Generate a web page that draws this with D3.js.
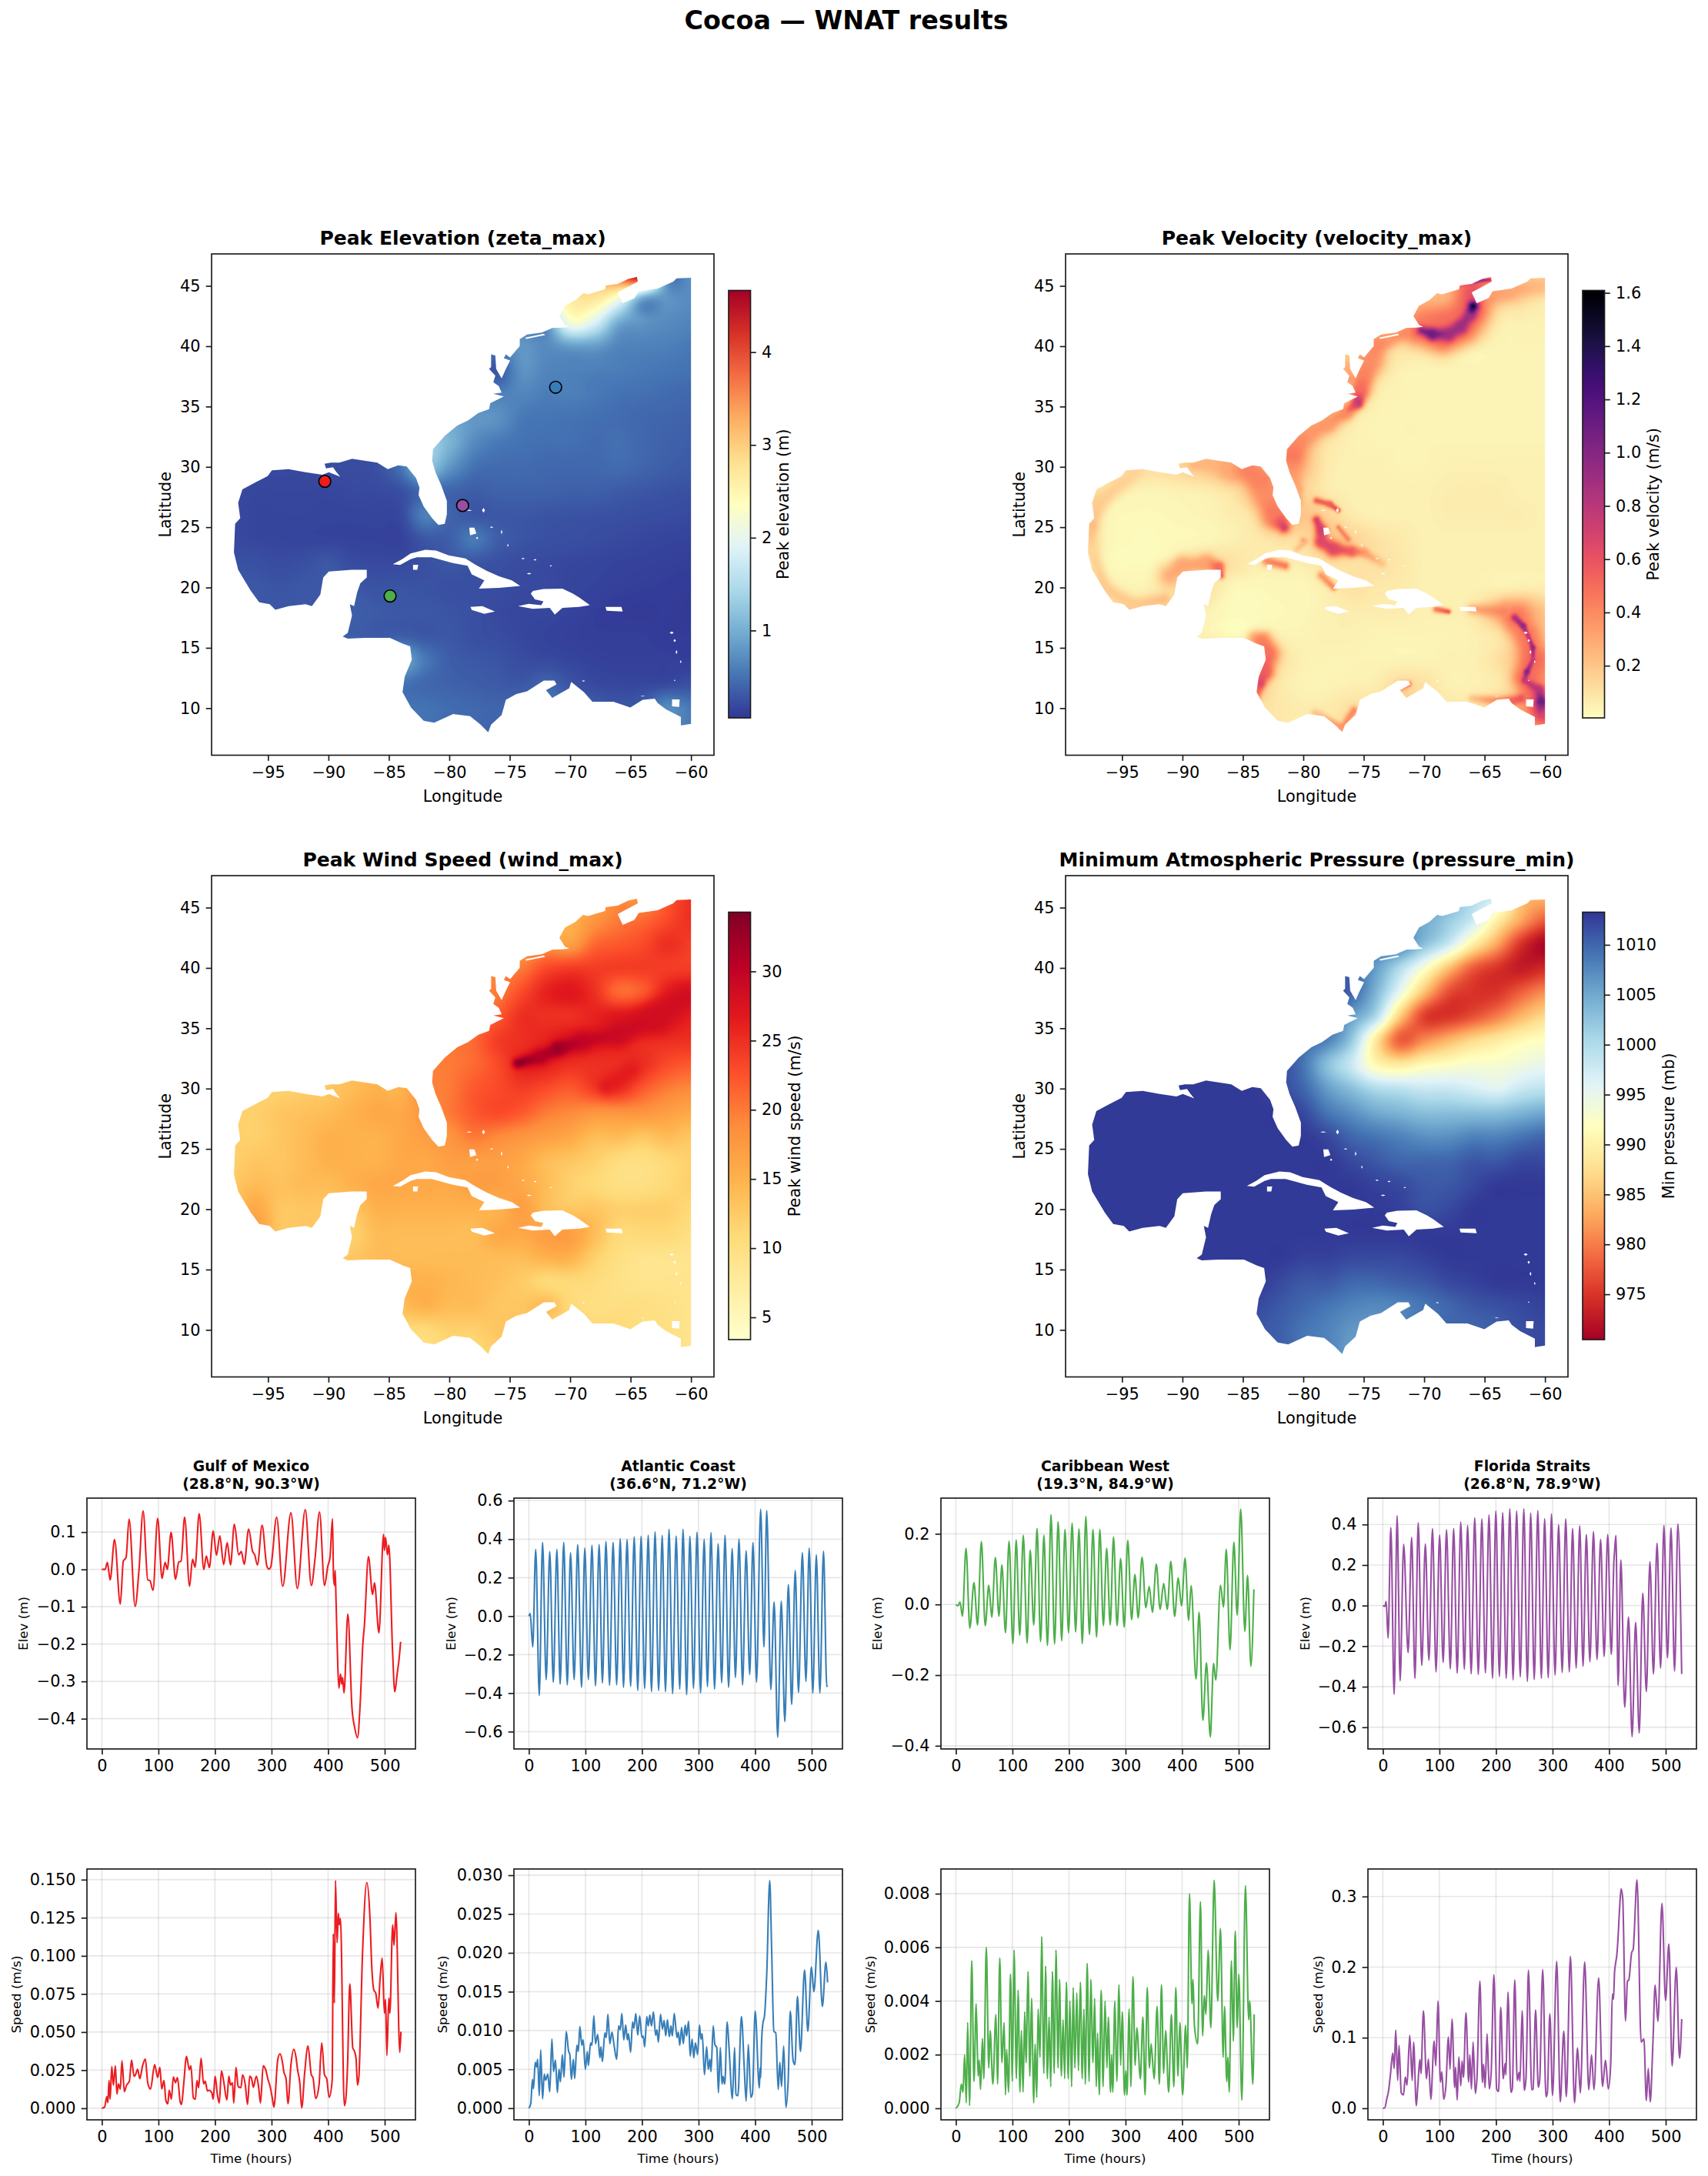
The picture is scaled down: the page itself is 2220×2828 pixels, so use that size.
<!DOCTYPE html>
<html>
<head>
<meta charset="utf-8">
<style>
  html, body { margin: 0; padding: 0; background: #fff; }
  text { font-family: "DejaVu Sans", sans-serif; fill: #000; }
</style>
<script src="https://cdn.jsdelivr.net/npm/d3@7"></script>
</head>
<body>
<div id="chart"></div>
<script>
// ---- data ----
var lonTicks = [-95, -90, -85, -80, -75, -70, -65, -60];
var latTicks = [10, 15, 20, 25, 30, 35, 40, 45];
var timeTicks = [0, 100, 200, 300, 400, 500];

var coast = [[-60,45.67],[-61.19,45.63],[-61.47,45.35],[-62.76,44.78],[-64.33,44.56],[-64.68,43.99],[-65.65,43.57],[-66.07,44.46],[-64.4,45.35],[-64.47,45.73],[-65.2,45.57],[-66.07,45.16],[-67.05,45.03],[-67.12,44.71],[-68.51,44.3],[-68.93,44.4],[-69.56,43.83],[-70.43,43.35],[-70.89,42.5],[-70.43,41.77],[-70.08,41.61],[-70.61,41.54],[-71.48,41.51],[-72.35,41.13],[-73.57,40.97],[-74.17,40.59],[-74.17,40.02],[-74.97,39.07],[-75.32,39.32],[-75.49,39.01],[-74.97,38.82],[-75.32,38.12],[-75.67,37.33],[-76.12,38.12],[-76.19,39.23],[-76.54,39.32],[-76.54,38.28],[-76.71,38.12],[-76.19,37.55],[-76.36,37.01],[-75.91,36.69],[-75.67,36.15],[-76.36,36.06],[-75.49,35.84],[-76.61,35.27],[-76.71,34.79],[-77.59,34.47],[-78.46,33.84],[-79.33,33.43],[-80.38,32.57],[-81.35,31.46],[-81.42,30.51],[-81.14,29.56],[-80.66,28.45],[-80.2,27.18],[-80.2,26.07],[-80.38,25.28],[-80.9,25.18],[-81.42,25.75],[-82.12,26.71],[-82.54,27.66],[-82.47,28.29],[-82.75,29.08],[-83.52,30.03],[-84.22,30.13],[-85.09,29.81],[-85.96,30.35],[-87.01,30.51],[-88.05,30.67],[-89.1,30.35],[-89.8,30.35],[-90.32,30.26],[-90.2,29.88],[-89.62,29.97],[-89.38,29.62],[-89.03,29.18],[-89.97,29.56],[-90.5,29.34],[-91.89,29.56],[-93.29,29.81],[-94.68,29.72],[-95.03,29.24],[-96.08,28.7],[-97.12,28.13],[-97.47,27.02],[-97.3,25.75],[-97.72,25.28],[-97.82,22.9],[-97.47,21.47],[-96.43,19.73],[-95.73,18.78],[-94.86,18.62],[-94.4,18.15],[-93.29,18.46],[-91.89,18.62],[-91.37,18.46],[-90.67,19.41],[-90.43,20.84],[-89.97,21.32],[-88.05,21.47],[-86.83,21.47],[-86.83,20.84],[-87.36,20.36],[-87.63,19.57],[-87.88,18.46],[-88.23,18.62],[-88.05,17.67],[-88.4,16.24],[-88.82,15.93],[-88.4,15.77],[-87.01,15.83],[-84.91,15.83],[-83.87,15.35],[-83.24,15.13],[-83.1,14.02],[-83.69,12.6],[-83.87,11.33],[-83.17,10.06],[-82.12,8.95],[-81.25,8.79],[-79.68,9.52],[-78.28,9.33],[-77.41,8.63],[-76.78,8],[-76.54,8.63],[-75.67,9.43],[-75.32,10.69],[-74.45,11.17],[-73.57,11.39],[-72.18,12.28],[-71.3,12.28],[-71.13,11.96],[-72,11.49],[-71.48,10.85],[-70.08,11.65],[-69.91,12.18],[-68.86,11.33],[-68.16,10.54],[-66.42,10.54],[-65.02,10.06],[-64,10.69],[-63,10.79],[-62.76,10.42],[-62.06,9.9],[-60.84,9.27],[-60.84,8.57],[-60,8.7]];
var cuba = [[-84.67,21.93],[-83.9,22.34],[-83.2,22.82],[-81.98,23.13],[-81.1,23.07],[-80.06,22.66],[-78.67,22.41],[-77.8,21.87],[-76.92,21.39],[-75.88,20.92],[-74.83,20.6],[-74.13,20.13],[-75.88,19.97],[-77.55,19.9],[-77.1,20.6],[-78.14,21.08],[-78.49,21.8],[-79.71,22.03],[-81.46,22.5],[-82.68,22.5],[-83.2,22.34],[-84.07,21.87]];
var jamaica = [[-78.25,18.39],[-77.27,18.45],[-76.23,18.01],[-77.1,17.82],[-78.14,18.13]];
var hispaniola = [[-73.08,19.72],[-72.21,19.87],[-70.64,19.9],[-69.77,19.49],[-69.25,19.18],[-68.37,18.54],[-69.25,18.39],[-70.64,18.32],[-71.27,17.75],[-71.69,18.32],[-73.08,18.23],[-74.31,18.45],[-73.43,18.64],[-72.39,18.54],[-72.21,18.86],[-72.91,19.02],[-73.26,19.49]];
var puertoRico = [[-67.08,18.39],[-65.76,18.39],[-65.65,18.01],[-66.98,18.07]];
var trinidad = [[-61.57,10.73],[-60.94,10.73],[-60.98,10.1],[-61.57,10.15]];
var andros = [[-78.35,24.96],[-77.93,24.96],[-77.76,24.49],[-78.28,24.33]];
var isleOfYouth = [[-83,21.89],[-82.57,21.89],[-82.65,21.47],[-83,21.47]];
var longIsland = [[-73.7,40.72],[-72.18,41.03],[-72.07,40.92],[-73.65,40.6]];
// lon, lat, width, height in degrees
var islets = [[-77.17,26.4,.25,.4],[-78.35,26.4,.5,.1],[-77.7,24.1,.2,.2],[-76.5,25,.3,.12],[-75.67,24.6,.12,.4],[-75.15,23.5,.12,.25],[-73.9,22.4,.3,.12],[-72.9,22.3,.25,.12],[-73.4,21.15,.4,.14],[-71.6,21.8,.2,.12],[-61.6,16.25,.35,.2],[-61.35,15.6,.2,.25],[-61.2,14.65,.14,.35],[-60.85,13.85,.12,.25],[-61.35,12.3,.12,.12],[-64,11,.4,.06],[-68.9,12.25,.3,.1]];

var gridLons = [-98,-96,-94,-92,-90,-88,-86,-84,-82,-80,-78,-76,-74,-72,-70,-68,-66,-64,-62,-60];
var gridLats = [46,44,42,40,38,36,34,32,30,28,26,24,22,20,18,16,14,12,10,8];

var zetaGrid = [
  [.4,.4,.4,.4,.4,.4,.4,.4,.5,.5,.5,.6,.7,1.8,2.7,3.2,3.9,4.65,.8,.72],
  [.4,.4,.4,.4,.4,.4,.4,.4,.5,.5,.5,.6,.7,2.0,2.65,2.75,2.2,1.0,.78,.7],
  [.4,.4,.4,.4,.4,.4,.4,.4,.5,.5,.5,.6,.65,.8,2.2,1.9,1.0,.78,.7,.65],
  [.4,.4,.4,.4,.4,.4,.4,.4,.5,.5,.5,.6,.78,.7,.85,.85,.65,.62,.6,.55],
  [.3,.3,.3,.3,.3,.3,.3,.3,.4,.4,.4,.3,.75,.65,.62,.6,.58,.55,.52,.5],
  [.3,.3,.3,.3,.3,.3,.3,.3,.5,.6,.6,.6,.65,.58,.6,.55,.5,.48,.45,.42],
  [.3,.3,.3,.3,.3,.3,.3,.3,.8,.9,.8,.75,.55,.52,.5,.48,.46,.42,.4,.38],
  [.25,.25,.25,.25,.25,.25,.25,.3,1.3,1.05,.7,.55,.5,.48,.48,.45,.48,.42,.38,.35],
  [.2,.2,.2,.2,.22,.22,.25,.5,1.2,.8,.5,.45,.45,.42,.42,.42,.45,.4,.35,.32],
  [.2,.18,.18,.18,.18,.2,.2,.25,.45,.4,.35,.38,.38,.38,.36,.36,.33,.3,.27,.25],
  [.2,.17,.17,.17,.16,.16,.17,.2,.6,.4,.3,.3,.3,.28,.27,.26,.25,.23,.22,.2],
  [.2,.18,.17,.16,.16,.15,.15,.15,.3,.35,.55,.35,.28,.25,.24,.22,.2,.18,.16,.15],
  [.25,.25,.22,.25,.3,.22,.2,.2,.25,.3,.28,.25,.22,.2,.18,.17,.15,.14,.13,.12],
  [.3,.3,.28,.3,.3,.3,.27,.28,.27,.25,.24,.22,.2,.2,.17,.15,.13,.12,.11,.1],
  [.3,.3,.3,.3,.3,.35,.32,.3,.3,.28,.25,.2,.18,.18,.15,.12,.1,.09,.1,.08],
  [.35,.35,.35,.35,.35,.35,.32,.35,.3,.3,.25,.22,.18,.15,.13,.12,.12,.12,.1,.1],
  [.5,.5,.5,.5,.5,.5,.6,.9,.55,.35,.3,.28,.22,.2,.17,.14,.13,.13,.13,.12],
  [.5,.5,.5,.5,.5,.5,.5,.5,.42,.38,.35,.32,.3,.4,.28,.2,.18,.18,.2,.25],
  [.5,.5,.5,.5,.5,.5,.5,.5,.5,.45,.42,.4,.45,.6,.4,.35,.3,.35,.7,.55],
  [.5,.5,.5,.5,.5,.5,.5,.5,.5,.45,.42,.4,.45,.6,.4,.35,.3,.35,.6,.55]
];

var windGrid = [
  [16,16,16,16,16,16,16,16,16,16,16,16,16,16,16,17,19,18,22,25],
  [16,16,16,16,16,16,16,16,16,16,16,16,15,15,15,18,20,21,23,25],
  [16,16,16,16,16,16,16,16,16,16,16,16,17,18,17,21,22,23,25,24],
  [16,16,16,16,16,16,16,16,16,17,18,19,20,23,24,24,24,24,24,24],
  [16,16,16,16,16,16,16,16,16,18,19,20,23,26,27,25,21,22,26,27],
  [16,16,16,16,16,16,16,16,17,19,20,22,25,25,25,26,27,27,27,26],
  [16,16,16,16,16,16,16,16,18,20,21,24,25,26,27,26,26,25,25,25],
  [14,14,14,14,14,14,15,16,19,20,21,23,26,26,25,25,25,25,23,22],
  [12,12,12,12.5,13,14,15,15,19,20,22,23,24,23,22,24,25,22,20,19],
  [12,12,13,13.5,14,15,16,16,18,20,22,23,22,20,19,18,18,18,17,16],
  [12,12,13,14,15,15,15,16,17,18,20,19,18,17,16,14,14,13,14,13],
  [12,13,13,14,15,15,15,16,16,17,17,17,16,14,13,12,10.5,10,11,12],
  [13,14,13.5,14,14,15,16,16,16,16,17,17,16,14,12,11,10,10,11,12],
  [14,16,13,13,13,13,15,15,15,15,15,15,17,14,13,13,12,12,12,11],
  [17,17,13,13,13,12,14,14,14,14,14,16,16,17,17,14,11,11,11,10],
  [13,13,13,13,13,13,14,14,14,14,14,14,14,15,15,12,10,9,9,9],
  [14,14,14,14,14,14,15,15,15,14.5,14,13.5,12.5,11,11,10.5,9.5,9,9,9],
  [13,13,13,13,13,13,14,14,15,14,14,13,13,14,11,10,10,10,9.5,9],
  [11,11,11,11,11,11,11,11,11,12,12,13,13,12,12,11,11,10,10,9],
  [10,10,10,10,10,10,10,10,10,11,11,12,12,12,12,11,11,10,10,9]
];

// the narrow wind maximum along the storm track: lon, lat, speed, width in degrees
var windStreaks = [
  [[-74.3,32.1,34,.3],[-72.5,32.6,31,.4],[-71,33.3,32.5,.4],[-69,33.9,30,.5],[-66,34.5,29,.6],[-63,35.8,28.5,.8],[-60.5,37.5,28.5,.8]],
  [[-67,30.2,26.5,.5],[-65,31.5,26.5,.6]]
];

var pressureGrid = [
  [1013,1013,1013,1013,1013,1013,1013,1013,1013,1013,1012,1011,1009,1008,1006,1004,1000,997,985,984],
  [1013,1013,1013,1013,1013,1013,1013,1013,1013,1013,1012,1011,1009,1007,1005,1002,998,990,983,978],
  [1013,1013,1013,1013,1013,1013,1013,1013,1013,1013,1012,1011,1009,1008,1003,998,990,983,975,971],
  [1013,1013,1013,1013,1013,1013,1013,1013,1013,1013,1012,1010,1006,1000,993,985,978,975,973,974],
  [1013,1013,1013,1013,1013,1013,1013,1013,1013,1013,1012,1010,1004,995,985,977,975,975,978,981],
  [1013,1013,1013,1013,1013,1013,1013,1013,1013,1012,1010,1006,1000,986,976,975,977,980,984,987],
  [1013,1013,1013,1013,1013,1013,1013,1013,1012,1010,1008,1002,989,978,981,984,987,989,991,992],
  [1013,1013,1013,1013,1013,1013,1013,1013,1012,1009,1003,998,991,989,991,992,993,993,994,995],
  [1013,1013,1013,1013,1013,1013,1013,1013,1012,1010,1006,1003,1000,999,998,998,997,996,998,999],
  [1013,1013,1013,1013,1013,1013,1013,1013,1013,1012,1009,1007,1005,1004,1003,1003,1003,1003,1004,1005],
  [1013,1013,1013,1013,1013,1013,1013,1013,1013,1013,1012,1010,1009,1008,1007,1007,1008,1008,1009,1010],
  [1013,1013,1013,1013,1013,1013,1013,1013,1013,1013,1013,1012,1011,1010,1010,1010,1011,1011,1012,1012],
  [1013,1013,1013,1013,1013,1013,1013,1013,1013,1013,1013,1013,1012.5,1012,1011,1011,1012,1013,1013,1013],
  [1013,1013,1013,1013,1013,1013,1013,1013,1013,1013,1013,1013,1013,1012.5,1011.5,1012,1013,1013,1013,1013],
  [1013,1013,1013,1013,1013,1013,1013,1013,1013,1013,1013,1013,1013,1013,1013,1013,1013,1013,1013,1013],
  [1013,1013,1013,1013,1013,1013,1013,1013,1013,1012.5,1012.5,1012,1012,1012,1012.5,1013,1013,1013,1013,1013],
  [1013,1013,1013,1013,1013,1013,1013,1013,1012,1011,1011,1010,1010,1010.5,1011,1012,1012.5,1013,1013,1013],
  [1012,1012,1012,1012,1012,1012,1012,1012,1011,1010,1009,1008,1007.5,1008,1009,1010,1011,1011.5,1012,1012.5],
  [1011,1011,1011,1011,1011,1011,1011,1011,1010.5,1009,1008,1006.5,1006.5,1008,1009,1010,1010,1010.5,1011.5,1012],
  [1011,1011,1011,1011,1011,1011,1011,1011,1010.5,1009,1008,1006,1006.5,1008,1009,1010,1010,1010.5,1011.5,1012]
];

var velocityGrid = [
  [.1,.1,.1,.1,.1,.1,.1,.1,.1,.1,.1,.1,.1,.2,.25,.3,.5,.4,.2,.15],
  [.1,.1,.1,.1,.1,.1,.1,.1,.1,.1,.1,.1,.15,.25,.25,.28,.6,.2,.12,.07],
  [.1,.1,.1,.1,.1,.1,.1,.1,.1,.1,.1,.1,.2,.2,.4,.45,.3,.08,.05,.05],
  [.1,.1,.1,.1,.1,.1,.1,.1,.1,.1,.1,.2,.15,.1,.08,.05,.045,.04,.04,.04],
  [.1,.1,.1,.1,.1,.1,.1,.1,.1,.1,.1,.15,.1,.05,.04,.04,.04,.04,.04,.04],
  [.1,.1,.1,.1,.1,.1,.1,.1,.1,.1,.15,.15,.06,.04,.04,.04,.04,.04,.04,.04],
  [.1,.1,.1,.1,.1,.1,.1,.1,.15,.15,.15,.07,.04,.04,.04,.04,.04,.04,.04,.04],
  [.15,.15,.15,.15,.15,.2,.2,.2,.2,.2,.09,.05,.04,.04,.04,.04,.04,.04,.04,.04],
  [.15,.15,.12,.12,.15,.2,.25,.25,.2,.2,.07,.05,.05,.04,.04,.05,.05,.05,.05,.05],
  [.1,.05,.04,.04,.05,.06,.1,.2,.25,.15,.07,.05,.05,.05,.05,.06,.06,.06,.05,.05],
  [.1,.03,.02,.02,.03,.04,.06,.1,.25,.2,.15,.07,.05,.05,.05,.06,.06,.06,.06,.05],
  [.1,.03,.015,.015,.02,.03,.05,.07,.1,.12,.2,.15,.1,.07,.05,.05,.05,.05,.05,.05],
  [.08,.02,.015,.02,.06,.12,.1,.06,.05,.06,.1,.1,.1,.08,.05,.05,.05,.05,.05,.05],
  [.1,.06,.04,.06,.1,.1,.03,.02,.03,.03,.06,.1,.08,.07,.05,.05,.05,.05,.06,.06],
  [.15,.15,.1,.1,.1,.05,.015,.015,.02,.03,.05,.06,.06,.06,.05,.05,.07,.2,.3,.2],
  [.05,.05,.05,.05,.05,.05,.02,.03,.04,.04,.05,.05,.04,.04,.04,.04,.05,.08,.15,.2],
  [.2,.2,.2,.2,.2,.2,.2,.2,.1,.05,.04,.04,.04,.04,.04,.05,.05,.1,.2,.35],
  [.2,.2,.2,.2,.2,.2,.2,.2,.08,.04,.04,.05,.06,.12,.1,.05,.05,.07,.15,.35],
  [.1,.1,.1,.1,.1,.1,.1,.1,.08,.06,.07,.1,.1,.2,.1,.08,.07,.15,.3,.6],
  [.1,.1,.1,.1,.1,.1,.1,.1,.08,.06,.07,.1,.1,.2,.1,.08,.07,.15,.3,.4]
];

// strong coastal currents the 2 degree grid can't hold: lon, lat, speed, width in degrees
var velocityStreaks = [
  [[-60,45,.22,.6],[-63,44.7,.3,.6],[-65.5,43.7,.35,.5]],
  [[-70.5,41.2,.5,.8],[-68.5,40.9,.5,.9],[-67,41.7,.5,.9],[-66,42.8,.55,.8]],
  [[-70.2,41.3,1.0,.25],[-69.3,41,1.1,.3],[-68,41,.9,.35],[-67,41.6,.9,.35],[-66.2,42.6,.9,.3],[-65.95,43.3,1.5,.3]],
  [[-67,45.2,.55,.18],[-65.8,45.4,.95,.12],[-64.6,45.5,.85,.1]],
  [[-71.5,41.1,.4,.4],[-73,40.6,.35,.45],[-74,40,.4,.55],[-74.5,38.8,.38,.7],[-75,37.5,.42,.55],[-75.3,36.3,.5,.5],[-75.5,35.3,.75,.3],[-76.5,34.5,.4,.4],[-78,33.6,.35,.5],[-79.5,32.8,.35,.55],[-80.5,31.8,.4,.55],[-81,30.8,.45,.7],[-81,29.5,.35,.55],[-80.5,28.2,.3,.3],[-80.2,27,.25,.18]],
  [[-76.4,38.5,.25,.3],[-76.1,37.3,.35,.3]],
  [[-89,30.2,.25,.35],[-87,30.3,.25,.5],[-86,30,.3,.7],[-84.5,29.7,.42,.6],[-83.5,28.8,.42,.7],[-83,27.5,.38,.7],[-82.3,26,.45,.7],[-81.6,25,.7,.35]],
  [[-94,29.5,.15,.5],[-97,27,.17,.5],[-97.6,25,.22,.4],[-97.5,23,.14,.4],[-96.5,20,.18,.4],[-94,18.5,.18,.4],[-91.5,19,.22,.4]],
  [[-91,21,.28,.7],[-90,21.8,.3,.5],[-88,22,.32,.45],[-87,21.7,.5,.3],[-86.8,21,.55,.2]],
  [[-78.9,27.2,.55,.2],[-77.8,26.9,.55,.18],[-77.1,26.4,.65,.14]],
  [[-78.9,25.6,.7,.25],[-78.5,24.7,.7,.3],[-78.5,23.8,.65,.35],[-77.5,23.2,.65,.4],[-76,23,.55,.3],[-75,22.9,.35,.25],[-73.5,22,.2,.25]],
  [[-77.1,25,.42,.14],[-76.3,24,.42,.18]],
  [[-80,23.9,.3,.2]],
  [[-83,22.2,.4,.3],[-81.5,21.8,.45,.25]],
  [[-78.5,21,.35,.25],[-77.5,20,.4,.2]],
  [[-80.5,23.2,.2,.2],[-79.8,23.8,.25,.15]],
  [[-84,15.8,.25,.4],[-83.5,15.5,.42,.55],[-83,14.5,.48,.6],[-83.2,13,.55,.45],[-83.6,12,.65,.28],[-83.8,11,.42,.25]],
  [[-79,9.6,.2,.25],[-76.8,8.4,.35,.2],[-75.8,9.8,.4,.25]],
  [[-72,11.8,.55,.25],[-71.3,12,.55,.18]],
  [[-69,18.2,.45,.2],[-68,18,.6,.15]],
  [[-66,18.2,.3,.3],[-63.5,18,.4,.45]],
  [[-63.2,18,.3,.5],[-62.5,17.5,.45,.7],[-61.5,16,.45,.7],[-61,14,.5,.7],[-61.5,12.5,.5,.7],[-60.5,10.5,.6,.6]],
  [[-62.5,17.5,.85,.2],[-61.8,16.8,.95,.16],[-61.4,16,.75,.12],[-61,15,.95,.13],[-61,14,.75,.12],[-61.5,13,1.0,.15],[-61.7,12.3,.75,.15],[-60.5,11.5,.8,.25],[-60.3,10.5,1.1,.28],[-60.4,9.5,.7,.3],[-61,8.8,.4,.3]],
  [[-66,10.8,.2,.25],[-63,10.5,.5,.3],[-62,10.8,.6,.3]]
];

var stationNames = ['Gulf of Mexico', 'Atlantic Coast', 'Caribbean West', 'Florida Straits'];
var stationCoords = ['(28.8°N, 90.3°W)', '(36.6°N, 71.2°W)', '(19.3°N, 84.9°W)', '(26.8°N, 78.9°W)'];
var stationLons = [-90.3, -71.2, -84.9, -78.9];
var stationLats = [28.8, 36.6, 19.3, 26.8];
var stationColors = ['#ec1c20', '#377eb8', '#4daf4a', '#984ea3'];

// time (hours), elevation (m)
var gulfElev = [[0,0],[5.8,0],[9.7,.019],[14.6,-.028],[22.4,.08],[32.6,-.093],[37.9,.022],[42.8,.032],[48.1,.135],[58.8,-.099],[65.6,-.002],[72.9,.157],[81.1,-.028],[85,-.03],[90.4,-.056],[98.6,.137],[106.4,-.024],[111.8,.019],[115.6,0],[122.4,.099],[130.2,-.026],[136,.02],[140,.022],[146.3,.14],[155,-.045],[160.3,.027],[164.7,.006],[172,.149],[180.3,0],[184.6,.036],[190,.005],[196.8,.103],[202.6,.038],[208.5,.09],[215.3,.013],[221.6,.072],[227.4,.012],[234.2,.121],[242,.039],[246.4,.048],[251.7,.014],[259.5,.108],[266.3,.049],[270.2,.039],[275,.012],[283.3,.118],[291.5,.01],[295.4,.001],[298.8,.008],[309,.14],[319.7,-.045],[334.3,.152],[345.5,-.051],[359.6,.16],[370.3,-.043],[376.6,.025],[384.8,.154],[393.6,-.043],[399.4,.008],[403.3,.032],[407.7,.136],[409.6,-.023],[411.6,-.043],[412.5,-.003],[414,-.084],[419.3,-.318],[421.8,-.28],[424.2,-.307],[425.6,-.29],[428,-.331],[434.9,-.12],[442.2,-.372],[447,-.424],[451.9,-.451],[456.7,-.359],[461.6,-.194],[464,-.153],[471.3,.034],[478.6,-.067],[482,-.036],[489.8,-.17],[498,.094],[499.5,.051],[501.5,.086],[504.9,.039],[507.3,.065],[514,-.222],[517.9,-.328],[521.8,-.283],[525.3,-.242],[528.2,-.194]];
var atlanticElev = [[0,0],[2.4,.013],[6.8,-.16],[12.1,.346],[18.4,-.412],[24.2,.383],[30.6,-.33],[36.9,.335],[43.2,-.343],[49.5,.346],[55.3,-.353],[61.6,.383],[67.9,-.357],[73.7,.329],[80,-.33],[86.3,.372],[93.1,-.37],[98.9,.353],[105.2,-.33],[111.5,.368],[117.8,-.362],[124.2,.372],[130,-.347],[136.3,.388],[142.6,-.359],[148.9,.383],[155.2,-.357],[161.5,.402],[167.3,-.37],[173.6,.398],[179.9,-.365],[186.2,.412],[192.5,-.386],[198.4,.415],[204.7,-.376],[211,.42],[216.8,-.392],[223.1,.438],[229.4,-.386],[235.7,.419],[241.5,-.392],[247.8,.451],[254.1,-.403],[260.4,.416],[266.7,-.379],[272.6,.451],[278.9,-.408],[284.7,.415],[291,-.375],[297.3,.436],[303.6,-.399],[309.9,.399],[315.7,-.366],[322,.434],[328.3,-.379],[334.6,.376],[340.9,-.346],[346.8,.42],[353.1,-.37],[359.4,.351],[365.2,-.319],[371.5,.4],[377.8,-.357],[384.1,.339],[390.4,-.303],[396.2,.382],[402.5,-.343],[409.8,.555],[415.6,-.16],[420.5,.548],[427.7,-.382],[433.6,.073],[439.9,-.629],[446.2,.077],[452.5,-.548],[458.8,.164],[464.6,-.459],[470.9,.237],[476.7,-.396],[483.5,.329],[489.8,-.339],[495.6,.353],[502,-.399],[508.2,.319],[514.5,-.399],[520.9,.337],[526.7,-.366],[528,-.36]];
var caribbeanElev = [[0,0],[3.9,-.004],[7.3,.007],[11.6,-.033],[17.9,.159],[24.7,-.067],[32,.062],[38.3,-.058],[45.1,.178],[51.9,-.06],[58.2,.054],[63.5,-.036],[69.8,.133],[76.1,-.033],[81.4,.112],[87.7,-.08],[94,.179],[100.8,-.111],[106.6,.183],[112.9,-.087],[119.2,.196],[126,-.109],[131.4,.154],[137.7,-.058],[143.5,.215],[149.8,-.105],[155.6,.196],[161.9,-.116],[168.2,.254],[174.5,-.112],[180.8,.234],[187.1,-.103],[192.9,.212],[199.2,-.08],[205.5,.23],[211.8,-.078],[217.6,.214],[223.5,-.111],[229.8,.249],[236.1,-.085],[242.4,.212],[248.7,-.092],[254.5,.212],[260.8,-.06],[266.6,.159],[272.9,-.058],[278.7,.191],[285,-.06],[291.3,.13],[297.6,-.064],[303.9,.181],[310.7,-.043],[316.5,.085],[322.4,-.038],[329.1,.134],[335.9,-.009],[341.7,.051],[347.6,-.022],[354.3,.114],[361.1,-.014],[367.4,.059],[373.7,-.014],[380,.122],[386.8,-.034],[393.1,.075],[398.9,-.004],[405.2,.131],[411.5,-.045],[415.9,.053],[424.6,-.211],[430,-.022],[436.7,-.328],[443,-.165],[449.8,-.375],[455.6,-.167],[459.5,-.214],[467.8,.054],[473.1,-.007],[478,.156],[484.7,-.128],[491.5,.176],[497.3,-.03],[503.6,.27],[510.9,-.076],[515.7,.082],[521.6,-.175],[526.9,.043]];
var floridaElev = [[0,0],[3.4,-.004],[5.8,.02],[9.2,-.16],[14.1,.385],[19.9,-.438],[25.2,.443],[30.5,-.371],[36.8,.302],[44.6,-.232],[50.9,.336],[56.7,-.359],[62.5,.408],[68.8,-.295],[75.1,.304],[81.4,-.27],[87.7,.38],[94,-.327],[100.3,.348],[106.6,-.28],[112.5,.374],[119.2,-.312],[125.1,.38],[131.4,-.333],[137.7,.412],[144,-.314],[149.8,.395],[156.1,-.337],[162.4,.433],[168.7,-.34],[175,.427],[181.3,-.332],[187.6,.447],[193.9,-.359],[199.7,.466],[206,-.35],[211.8,.458],[218.1,-.359],[224.4,.477],[230.2,-.367],[236.5,.466],[242.9,-.352],[249.2,.477],[255.5,-.374],[261.3,.456],[267.6,-.365],[273.9,.468],[280.2,-.359],[286,.428],[292.3,-.356],[298.1,.452],[304.4,-.343],[310.7,.399],[317,-.33],[323.3,.427],[329.6,-.327],[335.4,.38],[341.7,-.308],[348,.393],[353.9,-.299],[359.7,.351],[366,-.277],[372.3,.365],[378.6,-.266],[384.9,.327],[391.2,-.251],[397.5,.351],[403.8,-.241],[408.6,.229],[409.6,.266],[412,.346],[415.9,-.394],[420.8,.225],[427.5,-.501],[434.3,-.056],[440.6,-.646],[446.9,-.083],[453.2,-.628],[459.5,.061],[465.8,-.424],[472.1,.216],[478.4,-.337],[484.7,.308],[491,-.308],[496.9,.395],[503.2,-.258],[509.4,.383],[515.7,-.323],[521.6,.403],[528.3,-.337]];

// time (hours), speed (m/s)
var gulfSpeed = [[0,0],[4.9,.0008],[8.7,.0076],[10.7,.0037],[12.6,.0182],[14.6,.0059],[17.5,.0273],[20.4,.0152],[23.8,.0278],[26.7,.0093],[29.2,.016],[32.6,.0126],[35.5,.0311],[39.8,.0109],[43.7,.0152],[48.6,.0177],[52.5,.0316],[56.9,.021],[59.3,.0219],[63.2,.0256],[67.1,.0194],[71.9,.0278],[76.8,.0323],[81.1,.0168],[86,.0126],[93.3,.0286],[98.6,.0202],[102.5,.0269],[105.9,.0126],[109.8,.0182],[113.2,.0051],[116.6,.0029],[119,.0118],[122.9,.0059],[126.3,.0205],[130.2,.0168],[133.6,.0202],[138.5,.0042],[140.9,.0025],[144.3,.0143],[149.7,.034],[154.5,.0253],[157.4,.0278],[161.8,.0067],[165.2,.0059],[168.1,.0182],[171,.0135],[175.4,.0328],[179.8,.016],[182.7,.0177],[186.6,.0114],[189.5,.0118],[194.4,.0101],[196.8,.0059],[200.2,.021],[204.1,.0093],[207.5,.0034],[211.4,.0244],[215.3,.0177],[221.1,.0054],[224.5,.021],[227.4,.0152],[230.8,.0168],[233.2,.0034],[237.1,.0269],[241,.0143],[245.9,.0135],[248.8,.0219],[253.6,.0152],[257.5,.0025],[261.4,.021],[264.8,.0194],[267.7,.0138],[273.1,.021],[277,.0143],[280.4,.0034],[285.2,.0278],[289.6,.0253],[294,.0185],[297.4,.0143],[301.3,.0067],[304.2,.0008],[311,.032],[314.9,.0357],[318.8,.0311],[321.7,.0239],[325.6,.0194],[329,.003],[334.3,.0286],[339.2,.0387],[343.1,.0337],[346,.0253],[349.9,.0168],[353.3,.0003],[358.6,.0236],[364.4,.0409],[370.3,.0219],[373.2,.0202],[378,.0064],[383.9,.0152],[388.7,.0429],[393.6,.0219],[397.5,.0194],[401.8,.0072],[407.2,.0185],[409.1,.1145],[411.1,.069],[413,.1495],[415.9,.1086],[417.9,.1279],[419.8,.1204],[421.8,.1246],[428.6,.0017],[431,.0051],[434.4,.0286],[438.3,.0816],[443.6,.0396],[447,.037],[449.5,.032],[451.9,.0152],[454.3,.0202],[460.6,.0993],[468.4,.1481],[473.8,.1263],[477.2,.0926],[481,.0774],[484,.0758],[488.3,.0657],[491.7,.0842],[495.6,.0985],[499.5,.0623],[501.5,.0715],[503.9,.0345],[507.3,.0724],[509.2,.0623],[514.1,.1204],[516.5,.1069],[519.9,.1283],[526.7,.0367],[528.7,.0502]];
var atlanticSpeed = [[0,0],[3.4,.0006],[6.3,.0037],[8.2,.0025],[11.2,.0059],[13.6,.0053],[15.5,.0063],[18.4,.0016],[20.9,.0075],[24.2,.0012],[27.2,.0044],[29.6,.0036],[33.5,.0044],[36.9,.0021],[40.7,.0089],[43.6,.0047],[47,.0062],[50.4,.002],[53.3,.005],[55.8,.0034],[59.2,.0069],[62.1,.004],[66,.0099],[70.3,.0073],[72.3,.007],[75.2,.0037],[78.6,.0063],[81,.0038],[84.9,.0081],[87.3,.0073],[90.2,.0105],[93.6,.0081],[96,.0088],[99.9,.005],[103.3,.0073],[105.2,.0055],[109.1,.0084],[111.5,.0081],[114.9,.0119],[117.8,.0083],[121.7,.0095],[125.6,.0065],[127.5,.0079],[130,.006],[134.3,.0097],[136.8,.0091],[139.7,.0121],[143.1,.0083],[146.9,.0098],[150.3,.0083],[155.2,.0063],[158.6,.0106],[161.5,.0101],[164.4,.0122],[167.8,.0088],[171.2,.0107],[174.1,.0088],[176,.0096],[179.9,.0072],[183.3,.0111],[185.7,.0103],[189.1,.0122],[192.5,.0094],[195.9,.0119],[199.8,.0091],[202.2,.0093],[204.7,.0079],[208.5,.0118],[211,.0106],[213.9,.012],[216.8,.0106],[220.2,.0124],[224.1,.0094],[226.5,.0101],[228.9,.0085],[232.8,.0121],[236.2,.0102],[239.1,.0113],[242,.0093],[244.9,.0114],[248.3,.0092],[251.2,.0106],[253.6,.0093],[257,.0122],[261.9,.0091],[264.3,.0098],[266.7,.0081],[270.1,.0104],[273,.0083],[276.4,.0107],[278.9,.0093],[282.3,.0112],[285.2,.0067],[288.6,.0089],[291.5,.0065],[294.4,.0084],[298.3,.0069],[301.6,.0107],[304.1,.0089],[306.5,.0096],[310.4,.0043],[314.3,.0079],[317.2,.005],[320.1,.0063],[322,.0047],[325.9,.0106],[328.8,.0082],[332.2,.0078],[335.1,.002],[338.5,.0078],[341.4,.0031],[343.4,.0041],[346.3,.0031],[350.6,.0111],[354,.0076],[359.8,.0012],[363.7,.0078],[366.1,.0018],[369.5,.0016],[375.8,.0118],[380.7,.0053],[384.1,.0009],[388,.0082],[392.3,.0014],[395.3,.0019],[400.1,.0125],[407.4,.0026],[408.8,.0052],[409.8,.0039],[411.3,.0083],[413.7,.0109],[416.6,.0119],[420.5,.0172],[425.8,.0293],[429.2,.0205],[433.1,.0099],[436.5,.0097],[440.8,.0024],[443.7,.0059],[446.7,.0028],[450.5,.008],[454.4,.0001],[458.3,.0033],[462.2,.0125],[467,.0062],[470.4,.0056],[474.8,.0144],[480.1,.0073],[487.4,.0178],[493.2,.0099],[499.5,.0182],[503.9,.015],[511.6,.0229],[518.9,.0131],[525.2,.0188],[528.1,.0162]];
var caribbeanSpeed = [[0,0],[5.8,.0002],[9.7,.0009],[12.6,.0006],[15.5,.002],[18.4,.0002],[20.8,.0032],[24.2,.0001],[28.1,.0055],[32,.001],[35.9,.0039],[39.3,.0012],[41.2,.0018],[43.6,.0007],[47,.0026],[49.4,.0011],[53.8,.006],[58.2,.0015],[60.6,.0029],[65.4,.0009],[70.8,.0035],[73.7,.0009],[77.6,.0056],[81.4,.0017],[85.3,.0032],[87.7,.0005],[89.7,.0022],[93.1,.0006],[96.5,.005],[99.9,.001],[102.8,.0059],[107.1,.0011],[110,.0044],[113.4,.0006],[115.9,.0029],[118.8,.0006],[121.7,.0036],[124.1,.0017],[127.5,.0051],[130.9,.0012],[133.8,.0041],[137.7,.0002],[140.1,.0024],[143,.0004],[145.4,.0037],[148.8,.0019],[151.7,.0064],[155.6,.0013],[158.5,.0053],[161.9,.0011],[164.8,.0034],[167.7,.0008],[170.6,.0051],[174,.0013],[176.9,.0059],[180.8,.0015],[183.2,.0048],[186.6,.0012],[189.5,.0033],[192.4,.0011],[195.3,.0047],[198.7,.0011],[201.6,.004],[204.6,.0008],[207.5,.0045],[210.4,.0015],[213.8,.0043],[216.7,.0014],[220.1,.0047],[223.5,.0011],[226.4,.0037],[228.8,.0009],[232.2,.0054],[235.6,.001],[238.5,.0048],[242.4,.0017],[245.3,.0041],[248.2,.0008],[250.6,.0028],[253.5,.0005],[256.9,.0044],[260.3,.0008],[263.7,.004],[267.1,.0015],[269.5,.0034],[273.4,.0006],[275.3,.002],[277.3,.0006],[281.1,.004],[284.5,.001],[288.4,.0046],[291.3,.0016],[294.2,.0036],[298.1,.0005],[300.5,.0014],[302.5,.0005],[306.4,.0037],[309.3,.0008],[313.1,.0049],[317,.0016],[319.9,.003],[326.2,.0011],[330.6,.0034],[334.5,.0005],[338.3,.0045],[342.2,.0015],[345.1,.0024],[350.5,.0011],[355.8,.0038],[359.7,.0009],[363.5,.0046],[367.4,.0013],[370.8,.0029],[376.2,.0006],[381,.0035],[385.4,.0008],[388.8,.0045],[392.6,.0012],[396,.0032],[400.9,.0005],[406.2,.0031],[409.1,.0015],[413,.008],[417.4,.0039],[419.3,.0048],[421.7,.0031],[427.5,.0024],[432.4,.0077],[436.3,.0027],[439.2,.0042],[442.1,.0035],[445.9,.0059],[450.8,.003],[456.6,.0085],[462.9,.004],[467.8,.0067],[472.6,.0019],[475,.0038],[478.9,.001],[480.9,.0019],[483.3,.0006],[487.2,.0055],[490.5,.0025],[493.9,.0066],[497.3,.003],[500.2,.005],[505.6,.0003],[511.9,.0083],[517.7,.0033],[519.6,.004],[525,.0009],[527.4,.0035]];
var floridaSpeed = [[0,0],[3.4,.0007],[6.8,.0127],[10.2,.0255],[13.1,.0455],[17.5,.0782],[19.9,.0564],[22.8,.1109],[26.2,.0393],[28.6,.0891],[32.5,.0218],[36.4,.0189],[39.7,.0444],[42.7,.0327],[47.5,.1036],[51.9,.0393],[54.3,.0938],[59.1,.0036],[61.6,.0291],[65.4,.0691],[67.4,.0491],[71.7,.1382],[77.1,.0418],[80.5,.0698],[84.8,.0127],[90.6,.0953],[93.6,.06],[97.4,.152],[101.8,.0371],[104.2,.0516],[107.6,.0127],[111.5,.0327],[115.9,.1011],[118.8,.0553],[122.2,.1265],[127,.0291],[128.5,.0582],[131.4,.0116],[134.3,.0727],[137.7,.032],[140.1,.0673],[142.5,.0436],[146.9,.1353],[151.7,.0371],[153.7,.0756],[156.6,.0273],[159.5,.0938],[163.4,.0211],[166.3,.0418],[171.6,.18],[176,.0364],[177.9,.0625],[180.8,.0291],[184.2,.1055],[188.1,.0273],[191.5,.0509],[196.3,.1891],[201.2,.0273],[204.6,.0236],[208.4,.1429],[212.8,.0418],[216.2,.0636],[217.6,.0473],[221,.1644],[226.4,.0225],[228.8,.0273],[233.2,.1818],[237.5,.0393],[240.9,.0509],[242.4,.0382],[246.2,.1382],[250.1,.0255],[253,.0418],[257.4,.1956],[263.2,.0262],[265.6,.0273],[270,.1393],[274.8,.0298],[277.3,.04],[282.6,.1964],[288.4,.0164],[290.8,.0218],[295.2,.1338],[300,.0182],[307.3,.208],[313.6,.0091],[319.9,.1091],[324.3,.0164],[331.6,.2153],[338.8,.008],[344.2,.0855],[349,.0218],[356.8,.2073],[364,.0262],[368.9,.0756],[373.2,.0262],[381.5,.1847],[388.3,.0309],[393.6,.068],[398.5,.0273],[402.8,.0618],[405.7,.1618],[407.7,.1545],[409.6,.1927],[411.5,.2055],[413.5,.2164],[415.4,.2364],[418.3,.28],[421.2,.3109],[424.1,.2964],[429,.1236],[432.4,.18],[434.8,.1818],[439.7,.22],[442.6,.2255],[449.3,.3236],[456.6,.0938],[461.5,.0982],[465.8,.0109],[469.2,.0564],[472.6,.0091],[477.5,.0945],[481.3,.1745],[486.2,.1229],[493.4,.2902],[499.8,.1527],[505.6,.2327],[511.4,.06],[518.7,.1993],[524.5,.0709],[528.3,.1265]];

var elevSeries = [gulfElev, atlanticElev, caribbeanElev, floridaElev];
var speedSeries = [gulfSpeed, atlanticSpeed, caribbeanSpeed, floridaSpeed];

// ---- layout ----
var width = 2220;
var height = 2828;
var tickFont = 20.83;
var smallFont = 16.67;
var tickLen = 7.3;
var frameColor = '#1c1c1c';
var frameWidth = 1.67;

var mapWidth = 653;
var mapHeight = 651.5;
var lonLim = [-99.67, -58.1];
var latLim = [6.1, 47.65];
var timeLim = [-26.4, 554.4];

var colX = [113, 668, 1223, 1778];
var tsWidth = 427;
var tsHeight = 326;

var RdYlBu = d3.piecewise(d3.interpolateRgb, ['#a50026', '#d73027', '#f46d43', '#fdae61', '#fee090', '#ffffbf', '#e0f3f8', '#abd9e9', '#74add1', '#4575b4', '#313695']);
var YlOrRd = d3.piecewise(d3.interpolateRgb, ['#ffffcc', '#ffeda0', '#fed976', '#feb24c', '#fd8d3c', '#fc4e2a', '#e31a1c', '#bd0026', '#800026']);
var RdYlBuR = function (t) { return RdYlBu(1 - t); };
var magmaR = function (t) { return d3.interpolateMagma(1 - t); };

var svg = d3.select('#chart').append('svg')
  .attr('width', width)
  .attr('height', height)
  .style('display', 'block');
var defs = svg.append('defs');

svg.append('text')
  .attr('x', 1100)
  .attr('y', 38)
  .attr('text-anchor', 'middle')
  .attr('font-size', 33.33)
  .attr('font-weight', 'bold')
  .text('Cocoa — WNAT results');

var colOf = d3.scaleLinear().domain([gridLons[0], gridLons[gridLons.length - 1]]).range([0, gridLons.length - 1]);
var rowOf = d3.scaleLinear().domain([gridLats[0], gridLats[gridLats.length - 1]]).range([0, gridLats.length - 1]);

function cubic(a, b, c, d, f) {
  return b + 0.5 * f * (c - a + f * (2 * a - 5 * b + 4 * c - d + f * (3 * (b - c) + d - a)));
}

function sampleGrid(grid, lon, lat) {
  var cx = Math.max(0, Math.min(gridLons.length - 1.001, colOf(lon)));
  var cy = Math.max(0, Math.min(gridLats.length - 1.001, rowOf(lat)));
  var i = Math.floor(cx), j = Math.floor(cy);
  var fx = cx - i, fy = cy - j;
  var rowVals = [];
  for (var r = -1; r <= 2; r++) {
    var row = grid[Math.max(0, Math.min(gridLats.length - 1, j + r))];
    rowVals.push(cubic(row[Math.max(0, i - 1)], row[i], row[i + 1], row[Math.min(gridLons.length - 1, i + 2)], fx));
  }
  return cubic(rowVals[0], rowVals[1], rowVals[2], rowVals[3], fy);
}

// paint the gridded field into an image, the coast clip cuts it to the domain
function fieldImage(grid, streaks, domain, cmap, x, y, w, h) {
  var values = new Float32Array(w * h);
  var px, py;
  for (py = 0; py < h; py++) {
    var lat = y.invert(py + 0.5);
    for (px = 0; px < w; px++) {
      values[py * w + px] = sampleGrid(grid, x.invert(px + 0.5), lat);
    }
  }
  if (streaks) {
    streaks.forEach(function (line) {
      // a one point entry is a lone spot
      var pts = line.length === 1 ? [line[0], line[0]] : line;
      for (var s = 0; s < pts.length - 1; s++) {
        var p = pts[s], q = pts[s + 1];
        var reach = Math.max(p[3], q[3]) * 3;
        var x0 = Math.max(0, Math.floor(x(Math.min(p[0], q[0]) - reach)));
        var x1 = Math.min(w - 1, Math.ceil(x(Math.max(p[0], q[0]) + reach)));
        var y0 = Math.max(0, Math.floor(y(Math.max(p[1], q[1]) + reach)));
        var y1 = Math.min(h - 1, Math.ceil(y(Math.min(p[1], q[1]) - reach)));
        var dx = q[0] - p[0], dy = q[1] - p[1];
        var len2 = Math.max(dx * dx + dy * dy, 1e-6);
        for (py = y0; py <= y1; py++) {
          var la = y.invert(py + 0.5);
          for (px = x0; px <= x1; px++) {
            var lo = x.invert(px + 0.5);
            var u = Math.max(0, Math.min(1, ((lo - p[0]) * dx + (la - p[1]) * dy) / len2));
            var ex = lo - p[0] - u * dx, ey = la - p[1] - u * dy;
            var sig = p[3] + u * (q[3] - p[3]);
            var base = values[py * w + px];
            var peak = p[2] + u * (q[2] - p[2]);
            // fades from the streak's speed back to the field around it
            var val = base + (peak - base) * Math.exp(-(ex * ex + ey * ey) / (2 * sig * sig));
            if (peak > base && val > base) values[py * w + px] = val;
          }
        }
      }
    });
  }
  var lut = d3.range(512).map(function (i) { return d3.rgb(cmap(i / 511)); });
  var toIndex = d3.scaleLinear().domain(domain).range([0, 511]).clamp(true);
  var canvas = document.createElement('canvas');
  canvas.width = w;
  canvas.height = h;
  var ctx = canvas.getContext('2d');
  var img = ctx.createImageData(w, h);
  for (var k = 0; k < values.length; k++) {
    var c = lut[Math.round(toIndex(values[k]))];
    img.data[k * 4] = c.r;
    img.data[k * 4 + 1] = c.g;
    img.data[k * 4 + 2] = c.b;
    img.data[k * 4 + 3] = 255;
  }
  ctx.putImageData(img, 0, 0);
  return canvas.toDataURL('image/png');
}

function styleAxis(g, size) {
  g.attr('font-size', size).attr('font-family', '"DejaVu Sans", sans-serif');
  g.select('.domain').remove();
  g.selectAll('.tick line').attr('stroke', frameColor).attr('stroke-width', frameWidth);
  g.selectAll('.tick text').attr('fill', '#000');
}

function domainPath(x, y) {
  var line = d3.line().x(function (d) { return x(d[0]); }).y(function (d) { return y(d[1]); });
  var rings = [coast, cuba, jamaica, hispaniola, puertoRico, trinidad, andros, isleOfYouth, longIsland];
  var d = rings.map(function (r) { return line(r) + 'Z'; }).join('');
  islets.forEach(function (s) {
    d += line([[s[0] - s[2] / 2, s[1]], [s[0], s[1] + s[3] / 2], [s[0] + s[2] / 2, s[1]], [s[0], s[1] - s[3] / 2]]) + 'Z';
  });
  return d;
}

function drawMap(cfg) {
  var g = svg.append('g').attr('transform', 'translate(' + cfg.left + ',' + cfg.top + ')');
  var x = d3.scaleLinear().domain(lonLim).range([0, mapWidth]);
  var y = d3.scaleLinear().domain(latLim).range([mapHeight, 0]);
  var w = Math.ceil(mapWidth), h = Math.ceil(mapHeight);

  var clipId = 'clip-' + cfg.id;
  defs.append('clipPath').attr('id', clipId)
    .append('path')
    .attr('d', domainPath(x, y))
    .attr('clip-rule', 'evenodd');

  g.append('image')
    .attr('width', w)
    .attr('height', h)
    .attr('clip-path', 'url(#' + clipId + ')')
    .attr('href', fieldImage(cfg.grid, cfg.streaks, cfg.domain, cfg.cmap, x, y, w, h));

  if (cfg.stations) {
    g.selectAll('.station')
      .data(stationLons)
      .enter()
      .append('circle')
      .attr('class', 'station')
      .attr('cx', function (d) { return x(d); })
      .attr('cy', function (d, i) { return y(stationLats[i]); })
      .attr('r', 7.8)
      .attr('fill', function (d, i) { return stationColors[i]; })
      .attr('stroke', '#000')
      .attr('stroke-width', 1.67);
  }

  g.append('rect')
    .attr('width', mapWidth)
    .attr('height', mapHeight)
    .attr('fill', 'none')
    .attr('stroke', frameColor)
    .attr('stroke-width', frameWidth);

  g.append('g')
    .attr('transform', 'translate(0,' + mapHeight + ')')
    .call(d3.axisBottom(x).tickValues(lonTicks).tickSize(tickLen).tickPadding(tickLen))
    .call(styleAxis, tickFont);
  g.append('g')
    .call(d3.axisLeft(y).tickValues(latTicks).tickSize(tickLen).tickPadding(tickLen))
    .call(styleAxis, tickFont);

  g.append('text')
    .attr('x', mapWidth / 2)
    .attr('y', -12.5)
    .attr('text-anchor', 'middle')
    .attr('font-size', 25)
    .attr('font-weight', 'bold')
    .text(cfg.title);
  g.append('text')
    .attr('x', mapWidth / 2)
    .attr('y', mapHeight + 60)
    .attr('text-anchor', 'middle')
    .attr('font-size', tickFont)
    .text('Longitude');
  g.append('text')
    .attr('transform', 'translate(-53,' + (mapHeight / 2) + ') rotate(-90)')
    .attr('text-anchor', 'middle')
    .attr('font-size', tickFont)
    .text('Latitude');

  // colorbar
  var barLeft = mapWidth + 19;
  var barWidth = 28.5;
  var barTop = 47.5;
  var barHeight = 555.5;
  var gradId = 'grad-' + cfg.id;
  defs.append('linearGradient').attr('id', gradId)
    .attr('x1', 0).attr('x2', 0).attr('y1', 1).attr('y2', 0)
    .selectAll('stop')
    .data(d3.range(65))
    .enter()
    .append('stop')
    .attr('offset', function (d) { return d / 64; })
    .attr('stop-color', function (d) { return cfg.cmap(d / 64); });
  var bar = g.append('g').attr('transform', 'translate(' + barLeft + ',' + barTop + ')');
  var barScale = d3.scaleLinear().domain(cfg.domain).range([barHeight, 0]);
  bar.append('rect')
    .attr('width', barWidth)
    .attr('height', barHeight)
    .attr('fill', 'url(#' + gradId + ')')
    .attr('stroke', frameColor)
    .attr('stroke-width', frameWidth);
  bar.append('g')
    .attr('transform', 'translate(' + barWidth + ',0)')
    .call(d3.axisRight(barScale).tickValues(cfg.ticks).tickFormat(d3.format(cfg.tickFormat)).tickSize(tickLen).tickPadding(tickLen))
    .call(styleAxis, tickFont);
  g.append('text')
    .attr('transform', 'translate(' + cfg.labelX + ',' + (barTop + barHeight / 2) + ') rotate(-90)')
    .attr('text-anchor', 'middle')
    .attr('dy', '0.35em')
    .attr('font-size', tickFont)
    .text(cfg.label);
}

drawMap({
  id: 'zeta', left: 275, top: 330, title: 'Peak Elevation (zeta_max)', grid: zetaGrid,
  domain: [0.058, 4.665], cmap: RdYlBuR, ticks: [1, 2, 3, 4], tickFormat: 'd',
  label: 'Peak elevation (m)', labelX: 743, stations: true
});
drawMap({
  id: 'velocity', left: 1385, top: 330, title: 'Peak Velocity (velocity_max)', grid: velocityGrid, streaks: velocityStreaks,
  domain: [0.004, 1.609], cmap: magmaR, ticks: [.2, .4, .6, .8, 1, 1.2, 1.4, 1.6], tickFormat: '.1f',
  label: 'Peak velocity (m/s)', labelX: 764
});
drawMap({
  id: 'wind', left: 275, top: 1138, title: 'Peak Wind Speed (wind_max)', grid: windGrid, streaks: windStreaks,
  domain: [3.39, 34.28], cmap: YlOrRd, ticks: [5, 10, 15, 20, 25, 30], tickFormat: 'd',
  label: 'Peak wind speed (m/s)', labelX: 758
});
drawMap({
  id: 'pressure', left: 1385, top: 1138, title: 'Minimum Atmospheric Pressure (pressure_min)', grid: pressureGrid,
  domain: [970.46, 1013.27], cmap: RdYlBu, ticks: [975, 980, 985, 990, 995, 1000, 1005, 1010], tickFormat: 'd',
  label: 'Min pressure (mb)', labelX: 784
});

function drawSeries(cfg) {
  var g = svg.append('g').attr('transform', 'translate(' + cfg.left + ',' + cfg.top + ')');
  var x = d3.scaleLinear().domain(timeLim).range([0, tsWidth]);
  var y = d3.scaleLinear().domain(cfg.yLim).range([tsHeight, 0]);

  var gridG = g.append('g').attr('stroke', '#b0b0b0').attr('stroke-opacity', 0.3).attr('stroke-width', frameWidth);
  gridG.selectAll('.gx').data(timeTicks).enter().append('line')
    .attr('x1', function (d) { return x(d); }).attr('x2', function (d) { return x(d); })
    .attr('y1', 0).attr('y2', tsHeight);
  gridG.selectAll('.gy').data(cfg.ticks).enter().append('line')
    .attr('x1', 0).attr('x2', tsWidth)
    .attr('y1', function (d) { return y(d); }).attr('y2', function (d) { return y(d); });

  var line = d3.line()
    .curve(d3.curveMonotoneX)
    .x(function (d) { return x(d[0]); })
    .y(function (d) { return y(d[1]); });
  g.append('path')
    .datum(cfg.data)
    .attr('d', line)
    .attr('fill', 'none')
    .attr('stroke', cfg.color)
    .attr('stroke-width', 2.08)
    .attr('stroke-linejoin', 'round');

  g.append('rect')
    .attr('width', tsWidth)
    .attr('height', tsHeight)
    .attr('fill', 'none')
    .attr('stroke', frameColor)
    .attr('stroke-width', frameWidth);

  g.append('g')
    .attr('transform', 'translate(0,' + tsHeight + ')')
    .call(d3.axisBottom(x).tickValues(timeTicks).tickSize(tickLen).tickPadding(tickLen))
    .call(styleAxis, tickFont);
  g.append('g')
    .call(d3.axisLeft(y).tickValues(cfg.ticks).tickFormat(d3.format(cfg.tickFormat)).tickSize(tickLen).tickPadding(tickLen))
    .call(styleAxis, tickFont);

  g.append('text')
    .attr('transform', 'translate(' + cfg.labelX + ',' + (tsHeight / 2) + ') rotate(-90)')
    .attr('text-anchor', 'middle')
    .attr('dy', '0.35em')
    .attr('font-size', smallFont)
    .text(cfg.yLabel);

  if (cfg.name) {
    g.append('text')
      .attr('x', tsWidth / 2).attr('y', -35.5)
      .attr('text-anchor', 'middle').attr('font-size', 18.75).attr('font-weight', 'bold')
      .text(cfg.name);
    g.append('text')
      .attr('x', tsWidth / 2).attr('y', -12.5)
      .attr('text-anchor', 'middle').attr('font-size', 18.75).attr('font-weight', 'bold')
      .text(cfg.coords);
  } else {
    g.append('text')
      .attr('x', tsWidth / 2).attr('y', tsHeight + 56)
      .attr('text-anchor', 'middle').attr('font-size', smallFont)
      .text('Time (hours)');
  }
}

var elevLims = [[-.481, .191], [-.69, .613], [-.409, .301], [-.707, .53]];
var elevTicks = [[-.4, -.3, -.2, -.1, 0, .1], [-.6, -.4, -.2, 0, .2, .4, .6], [-.4, -.2, 0, .2], [-.6, -.4, -.2, 0, .2, .4]];
var elevLabelX = [-83, -82, -83, -82];
var speedLims = [[-.0076, .157], [-.0015, .0308], [-.00043, .00892], [-.0164, .339]];
var speedTicks = [[0, .025, .05, .075, .1, .125, .15], [0, .005, .01, .015, .02, .025, .03], [0, .002, .004, .006, .008], [0, .1, .2, .3]];
var speedFormats = ['.3f', '.3f', '.3f', '.1f'];
var speedLabelX = [-92, -93, -92, -65];

stationNames.forEach(function (name, i) {
  drawSeries({
    left: colX[i], top: 1947, data: elevSeries[i], color: stationColors[i], yLim: elevLims[i],
    ticks: elevTicks[i], tickFormat: '.1f', yLabel: 'Elev (m)', labelX: elevLabelX[i],
    name: name, coords: stationCoords[i]
  });
  drawSeries({
    left: colX[i], top: 2429, data: speedSeries[i], color: stationColors[i], yLim: speedLims[i],
    ticks: speedTicks[i], tickFormat: speedFormats[i], yLabel: 'Speed (m/s)', labelX: speedLabelX[i]
  });
});
</script>
</body>
</html>
